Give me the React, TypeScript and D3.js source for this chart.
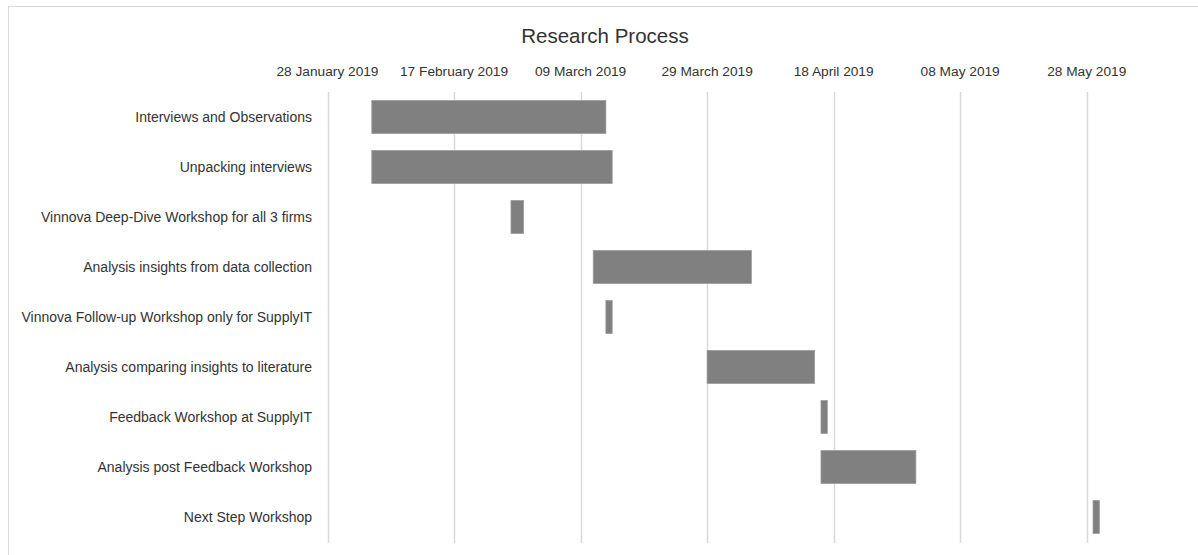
import React, { useEffect, useRef } from "react";
import * as d3 from "d3";

const title = "Research Process";
const tasks = [
  "Interviews and Observations",
  "Unpacking interviews",
  "Vinnova Deep-Dive Workshop for all 3 firms",
  "Analysis insights from data collection",
  "Vinnova Follow-up Workshop only for SupplyIT",
  "Analysis comparing insights to literature",
  "Feedback Workshop at SupplyIT",
  "Analysis post Feedback Workshop",
  "Next Step Workshop",
];
const startDates = [
  "2019-02-04",
  "2019-02-04",
  "2019-02-26",
  "2019-03-11",
  "2019-03-13",
  "2019-03-29",
  "2019-04-16",
  "2019-04-16",
  "2019-05-29",
];
const endDates = [
  "2019-03-13",
  "2019-03-14",
  "2019-02-28",
  "2019-04-05",
  "2019-03-14",
  "2019-04-15",
  "2019-04-17",
  "2019-05-01",
  "2019-05-30",
];
const tickDates = [
  "2019-01-28",
  "2019-02-17",
  "2019-03-09",
  "2019-03-29",
  "2019-04-18",
  "2019-05-08",
  "2019-05-28",
];

const parse = d3.utcParse("%Y-%m-%d");
const fmt = d3.utcFormat("%d %B %Y");

export default function App() {
  const ref = useRef<SVGSVGElement>(null);
  useEffect(() => {
    const svg = d3.select(ref.current);
    svg.selectAll("*").remove();
    const font = "'Liberation Sans', Arial, sans-serif";

    svg
      .append("rect")
      .attr("x", 8.5)
      .attr("y", 6.5)
      .attr("width", 1300)
      .attr("height", 700)
      .attr("fill", "#fff")
      .attr("stroke", "#d9d9d9");

    const x = d3
      .scaleUtc()
      .domain([parse("2019-01-28")!, parse("2019-05-28")!])
      .range([327.5, 1086.7]);
    const y = d3.scaleBand<string>().domain(tasks).range([92, 542]).paddingInner(0.34).paddingOuter(0.17);

    const ticks = tickDates.map((d) => parse(d)!);

    svg
      .append("g")
      .selectAll("line")
      .data(ticks)
      .join("line")
      .attr("x1", (d) => Math.round(x(d)) + 0.5)
      .attr("x2", (d) => Math.round(x(d)) + 0.5)
      .attr("y1", 92)
      .attr("y2", 543)
      .attr("stroke", "#d9d9d9")
      .attr("stroke-width", 1.5);

    svg
      .append("g")
      .selectAll("text")
      .data(ticks)
      .join("text")
      .attr("x", (d) => x(d))
      .attr("y", 76)
      .attr("text-anchor", "middle")
      .attr("font-family", font)
      .attr("font-size", 13.7)
      .attr("fill", "#333")
      .text((d) => fmt(d));

    const data = tasks.map((t, i) => ({
      t,
      s: parse(startDates[i])!,
      e: parse(endDates[i])!,
    }));

    svg
      .append("g")
      .selectAll("rect")
      .data(data)
      .join("rect")
      .attr("x", (d) => x(d.s))
      .attr("width", (d) => x(d.e) - x(d.s))
      .attr("y", (d) => y(d.t)!)
      .attr("height", y.bandwidth())
      .attr("fill", "#808080")
      .attr("stroke", "#9a9a9a")
      .attr("stroke-width", 0.75);

    svg
      .append("g")
      .selectAll("text")
      .data(tasks)
      .join("text")
      .attr("x", 312)
      .attr("y", (d) => y(d)! + y.bandwidth() / 2)
      .attr("dy", "0.35em")
      .attr("text-anchor", "end")
      .attr("font-family", font)
      .attr("font-size", 14)
      .attr("fill", "#333")
      .text((d) => d);

    svg
      .append("text")
      .attr("x", 605)
      .attr("y", 43)
      .attr("text-anchor", "middle")
      .attr("font-family", font)
      .attr("font-size", 20.5)
      .attr("fill", "#333")
      .text(title);
  }, []);

  return (
    <svg
      ref={ref}
      width={1198}
      height={555}
      style={{ position: "absolute", left: 0, top: 0, background: "#fff" }}
    />
  );
}
